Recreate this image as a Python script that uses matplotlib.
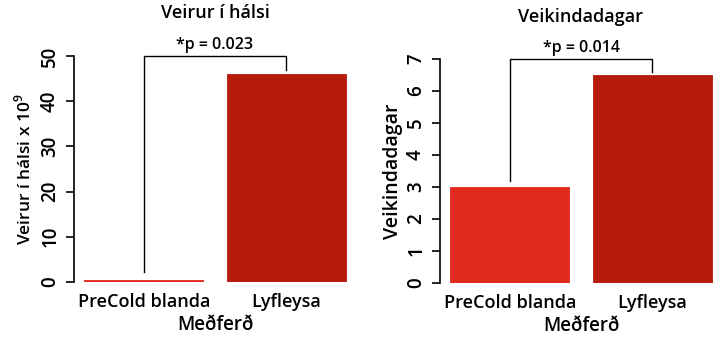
import matplotlib
matplotlib.use("Agg")
import matplotlib.pyplot as plt

plt.rcParams["font.family"] = ["Open Sans", "DejaVu Sans"]
plt.rcParams["font.weight"] = 600
plt.rcParams["axes.labelweight"] = 600
plt.rcParams["axes.titleweight"] = 600
plt.rcParams["mathtext.fontset"] = "custom"
plt.rcParams["mathtext.rm"] = "Open Sans:weight=600"

groups = ["PreCold blanda", "Lyfleysa"]
bar_pos = [0.7, 1.9]

virus_vals = [0.35, 46.0]
sick_days = [3.0, 6.5]

virus_ticks = [0, 10, 20, 30, 40, 50]
days_ticks = [0, 1, 2, 3, 4, 5, 6, 7]

virus_p = "*p = 0.023"
days_p = "*p = 0.014"

colors = ["#E2291D", "#B61B0C"]

W, H = 713, 337
fig = plt.figure(figsize=(W / 100, H / 100), dpi=100)


def px_axes(left, right, top, bottom):
    return fig.add_axes([left / W, 1 - bottom / H, (right - left) / W, (bottom - top) / H])


def panel(ax, vals, ticks, title, ylabel, ylabel_size, ylabel_pad, ptext, bracket_top, left_leg, right_leg):
    ax.bar(bar_pos, vals, width=1.0, color=colors, edgecolor=colors, linewidth=0.6)
    ax.set_xlim(0.112, 2.488)
    ax.set_ylim(0, ticks[-1])
    for s in ["top", "right", "bottom"]:
        ax.spines[s].set_visible(False)
    ax.spines["left"].set_bounds(ticks[0], ticks[-1])
    ax.spines["left"].set_linewidth(1.2)
    ax.set_yticks(ticks)
    ax.set_yticklabels([str(t) for t in ticks], rotation=90, va="center")
    ax.tick_params(axis="y", length=6, width=1.2, pad=4, labelsize=13.5)
    ax.set_xticks(bar_pos)
    ax.set_xticklabels(groups)
    ax.tick_params(axis="x", length=0, pad=8, labelsize=13)
    ax.set_xlabel("Meðferð", fontsize=13.5, labelpad=3)
    ax.set_ylabel(ylabel, fontsize=ylabel_size, labelpad=ylabel_pad)
    ax.set_title(title, fontsize=13, pad=27)
    # significance bracket
    ax.plot([bar_pos[0], bar_pos[0], bar_pos[1], bar_pos[1]],
            [left_leg, bracket_top, bracket_top, right_leg],
            color="black", linewidth=1.0, clip_on=False)
    ax.annotate(ptext, xy=((bar_pos[0] + bar_pos[1]) / 2, bracket_top),
                xytext=(0, 2), textcoords="offset points",
                ha="center", va="bottom", fontsize=11.5, annotation_clip=False)


ax1 = px_axes(74, 356, 56, 282)
panel(ax1, virus_vals, virus_ticks, "Veirur í hálsi",
      r"Veirur í hálsi x 10$^{\mathregular{9}}$", 12.5, 4, virus_p, 50, 2.2, 47)

ax2 = px_axes(440, 722, 59, 283)
panel(ax2, sick_days, days_ticks, "Veikindadagar", "Veikindadagar", 14, 2,
      days_p, 7.0, 3.2, 6.6)

fig.savefig("out.png", dpi=100)
